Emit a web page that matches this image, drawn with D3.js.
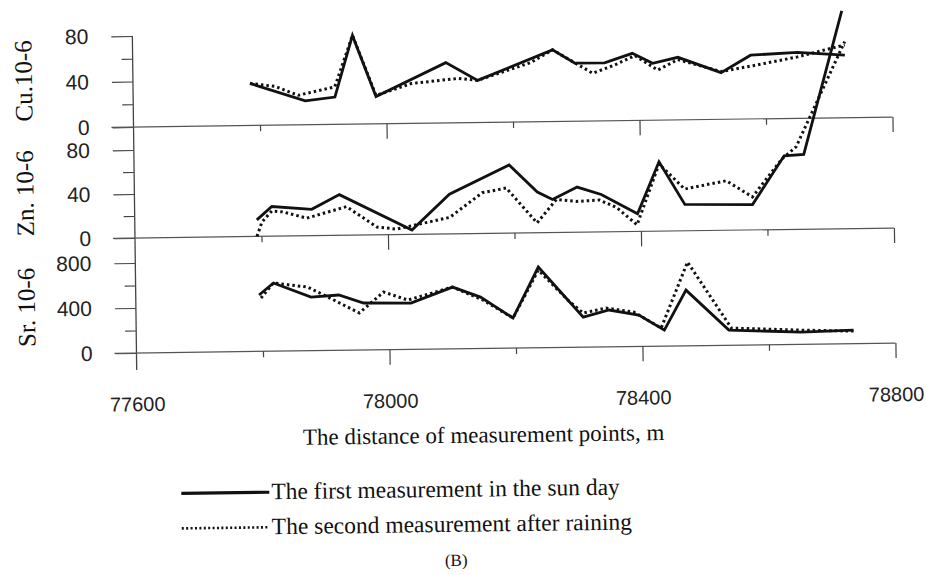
<!DOCTYPE html>
<html>
<head>
<meta charset="utf-8">
<script src="https://cdn.jsdelivr.net/npm/d3@7"></script>
<style>
body { margin: 0; background: #fff; }
svg { display: block; }
.num { font-family: "Liberation Sans", Arial, sans-serif; font-size: 21px; fill: #222; }
.serif { font-family: "Liberation Serif", "Times New Roman", serif; fill: #111; }
</style>
</head>
<body>
<script>
var width = 926,
    height = 575;

// distance along the road (m) and readings, first = sun day, second = after rain
var cuDist1 = [77785, 77872, 77919, 77948, 77984, 78095, 78145, 78264, 78299, 78346, 78390, 78422, 78462, 78530, 78577, 78651, 78726];
var cuVal1  = [37, 21, 24, 78, 24, 53, 37, 63, 51, 51, 59, 50, 55, 41, 56, 58, 55];
var cuDist2 = [77785, 77825, 77861, 77919, 77948, 77984, 78040, 78114, 78145, 78229, 78264, 78327, 78362, 78394, 78430, 78462, 78530, 78583, 78651, 78726];
var cuVal2  = [37, 34, 26, 33, 78, 25, 35, 39, 37, 52, 63, 42, 49, 57, 44, 53, 42, 47, 54, 64];

var znDist1 = [77793, 77817, 77880, 77924, 78038, 78098, 78193, 78237, 78261, 78300, 78338, 78395, 78430, 78470, 78577, 78628, 78659, 78722];
var znVal1  = [15, 27, 24, 37, 4, 36, 62, 37, 30, 41, 34, 16, 63, 24, 23, 67, 68, 198];
var znDist2 = [77793, 77801, 77817, 77834, 77872, 77935, 77983, 78014, 78098, 78150, 78188, 78236, 78267, 78299, 78335, 78362, 78394, 78430, 78470, 78536, 78577, 78624, 78647, 78726];
var znVal2  = [0, 13, 23, 22, 16, 26, 7, 5, 15, 37, 41, 9, 30, 28, 29, 22, 6, 61, 38, 45, 30, 64, 75, 170];

var srDist1 = [77795, 77818, 77877, 77921, 77960, 78035, 78101, 78145, 78196, 78237, 78307, 78348, 78395, 78435, 78470, 78537, 78651, 78734];
var srVal1  = [501, 606, 477, 492, 418, 412, 549, 457, 267, 717, 267, 327, 279, 142, 495, 135, 108, 120];
var srDist2 = [77798, 77818, 77872, 77913, 77953, 77992, 78030, 78101, 78149, 78196, 78237, 78283, 78307, 78343, 78387, 78430, 78473, 78541, 78651, 78734];
var srVal2  = [474, 606, 566, 448, 330, 513, 439, 549, 430, 267, 690, 420, 303, 345, 306, 161, 744, 152, 126, 111];

var xTickLabels = [77600, 78000, 78400, 78800];
var xMinorTicks = [77800, 78200, 78600];
var xMajorTicks = [78000, 78400, 78800];

var legendLabels = ["The first measurement in the sun day", "The second measurement after raining"];

var svg = d3.select("body").append("svg")
    .attr("width", width)
    .attr("height", height);

// the scan is a little skewed, so the whole page is turned slightly
var g = svg.append("g").attr("transform", "rotate(-0.75,135,240)");

var x = d3.scaleLinear().domain([77600, 78800]).range([135, 894]);

var panels = [
    {title: "Cu.10-6", top: 36, bottom: 127, max: 80, major: [0, 40, 80], minor: [20, 60],
     d1: cuDist1, v1: cuVal1, d2: cuDist2, v2: cuVal2},
    {title: "Zn. 10-6", top: 150, bottom: 238, max: 80, major: [0, 40, 80], minor: [20, 60],
     d1: znDist1, v1: znVal1, d2: znDist2, v2: znVal2},
    {title: "Sr. 10-6", top: 263, bottom: 353, max: 800, major: [0, 400, 800], minor: [200, 600],
     d1: srDist1, v1: srVal1, d2: srDist2, v2: srVal2}
];

// left axis line for all three panels
g.append("line")
    .attr("x1", 135).attr("x2", 135)
    .attr("y1", 36).attr("y2", 370)
    .attr("stroke", "#444").attr("stroke-width", 1.3);

panels.forEach(function(p) {
    var y = d3.scaleLinear().domain([0, p.max]).range([p.bottom, p.top]);

    var yMajor = g.append("g").attr("transform", "translate(135,0)")
        .call(d3.axisLeft(y).tickValues(p.major).tickSize(21).tickPadding(23));
    yMajor.select(".domain").remove();
    yMajor.selectAll("text").attr("class", "num").attr("fill", null);

    var yMinor = g.append("g").attr("transform", "translate(135,0)")
        .call(d3.axisLeft(y).tickValues(p.minor).tickSize(11).tickFormat(""));
    yMinor.select(".domain").remove();

    // zero line with distance ticks
    g.append("line")
        .attr("x1", 113).attr("x2", 894)
        .attr("y1", p.bottom).attr("y2", p.bottom)
        .attr("stroke", "#555").attr("stroke-width", 1.2);

    var xMaj = g.append("g").attr("transform", "translate(0," + p.bottom + ")")
        .call(d3.axisBottom(x).tickValues(xMajorTicks).tickSize(15).tickFormat(""));
    xMaj.select(".domain").remove();
    var xMin = g.append("g").attr("transform", "translate(0," + p.bottom + ")")
        .call(d3.axisBottom(x).tickValues(xMinorTicks).tickSize(6).tickFormat(""));
    xMin.select(".domain").remove();
    g.selectAll("g.tick line").attr("stroke", "#444").attr("stroke-width", 1.2);

    var line = d3.line()
        .x(function(d) { return x(d[0]); })
        .y(function(d) { return y(d[1]); });

    g.append("path")
        .datum(d3.zip(p.d2, p.v2))
        .attr("d", line)
        .attr("fill", "none")
        .attr("stroke", "#111")
        .attr("stroke-width", 3)
        .attr("stroke-dasharray", "2.5,3");

    g.append("path")
        .datum(d3.zip(p.d1, p.v1))
        .attr("d", line)
        .attr("fill", "none")
        .attr("stroke", "#111")
        .attr("stroke-width", 2.8)
        .attr("stroke-linejoin", "miter");

    g.append("text")
        .attr("class", "serif")
        .attr("transform", "translate(34," + ((p.top + p.bottom) / 2 - 2) + ") rotate(-90)")
        .attr("text-anchor", "middle")
        .style("font-size", "25px")
        .text(p.title);
});

// distance labels under the last panel
var xLab = g.append("g").attr("transform", "translate(0,353)")
    .call(d3.axisBottom(x).tickValues(xTickLabels).tickSize(0).tickPadding(44)
        .tickFormat(d3.format("d")));
xLab.select(".domain").remove();
xLab.selectAll("text").attr("class", "num").attr("fill", null).style("font-size", "20px");

g.append("text")
    .attr("class", "serif")
    .attr("x", 481).attr("y", 447)
    .attr("text-anchor", "middle")
    .style("font-size", "23px")
    .text("The distance of measurement points, m");

// legend
var legend = g.selectAll(".legend").data(legendLabels).enter().append("g")
    .attr("class", "legend")
    .attr("transform", function(d, i) { return "translate(0," + (i * 35) + ")"; });

legend.append("line")
    .attr("x1", 178).attr("x2", 266)
    .attr("y1", 494).attr("y2", 494)
    .attr("stroke", "#111")
    .attr("stroke-width", function(d, i) { return i === 0 ? 3.2 : 2.6; })
    .attr("stroke-dasharray", function(d, i) { return i === 0 ? null : "2,2.4"; });

legend.append("text")
    .attr("class", "serif")
    .attr("x", 268).attr("y", 501)
    .style("font-size", "23.5px")
    .text(function(d) { return d; });

g.append("text")
    .attr("class", "serif")
    .attr("x", 452).attr("y", 570)
    .attr("text-anchor", "middle")
    .style("font-size", "17px")
    .text("(B)");
</script>
</body>
</html>
